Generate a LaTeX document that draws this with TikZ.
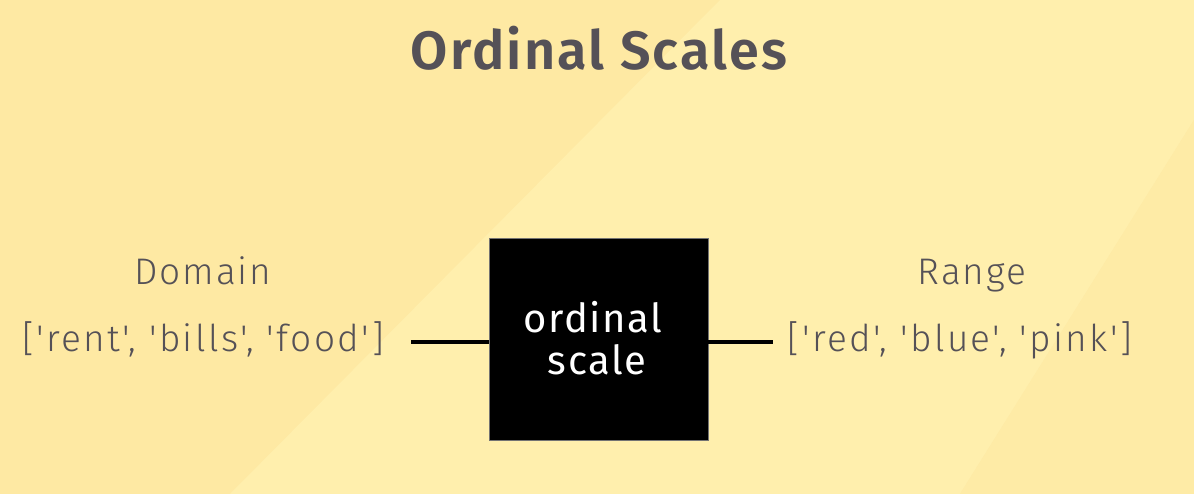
\documentclass[tikz,border=0pt]{standalone}
\usepackage{fontspec}
\setmainfont{Fira Sans}
\newfontfamily\titlefont[LetterSpace=4]{Fira Sans SemiBold}
\newfontfamily\labfont[LetterSpace=5]{Fira Sans Light}
\newfontfamily\listfont[LetterSpace=6.5]{Fira Sans Light}
\newfontfamily\boxfont[LetterSpace=4]{Fira Sans}
\definecolor{bgA}{RGB}{254,233,163}
\definecolor{bgB}{RGB}{255,239,173}
\definecolor{bgC}{RGB}{254,235,166}
\definecolor{ink}{RGB}{85,81,87}
\tikzset{
  lab/.style={text=ink, font=\labfont\fontsize{37}{42}\selectfont, inner sep=0pt, anchor=base},
  lst/.style={text=ink, font=\listfont\fontsize{37}{42}\selectfont, inner sep=0pt, anchor=base},
  conn/.style={line width=3.2pt, draw=black},
}
\begin{document}
\begin{tikzpicture}[x=1pt,y=-1pt]
\useasboundingbox (0,0) rectangle (1194,494);
\fill[bgA] (0,0) rectangle (1194,494);
\fill[bgB] (720,0) -- (1194,0) -- (1194,120) -- (960,494) -- (230,494) -- cycle;
\fill[bgC] (1194,120) -- (1194,494) -- (960,494) -- cycle;
\node[text=ink, font=\titlefont\fontsize{54}{60}\selectfont, inner sep=0pt, anchor=base] (title) at (599,70) {Ordinal Scales};
\node[lab] (dom) at (203,285) {Domain};
\node[lst] (domv) at (203,352) {['rent', 'bills', 'food']};
\node[lab] (rng) at (972,285) {Range};
\node[lst] (rngv) at (960,352) {['red', 'blue', 'pink']};
\node[draw=black!55, line width=0.8pt, fill=black, minimum width=219pt, minimum height=202pt, inner sep=0pt] (box) at (598.5,339) {};
\node[text=white, font=\boxfont\fontsize{40}{46}\selectfont, inner sep=0pt, anchor=base] (l1) at (593,333) {ordinal};
\node[text=white, font=\boxfont\fontsize{40}{46}\selectfont, inner sep=0pt, anchor=base] (l2) at (597,374) {scale};
\coordinate (a) at (411,342);
\coordinate (b) at (773,342);
\draw[conn] (a) -- (box.west |- a);
\draw[conn] (box.east |- b) -- (b);
\end{tikzpicture}
\end{document}
